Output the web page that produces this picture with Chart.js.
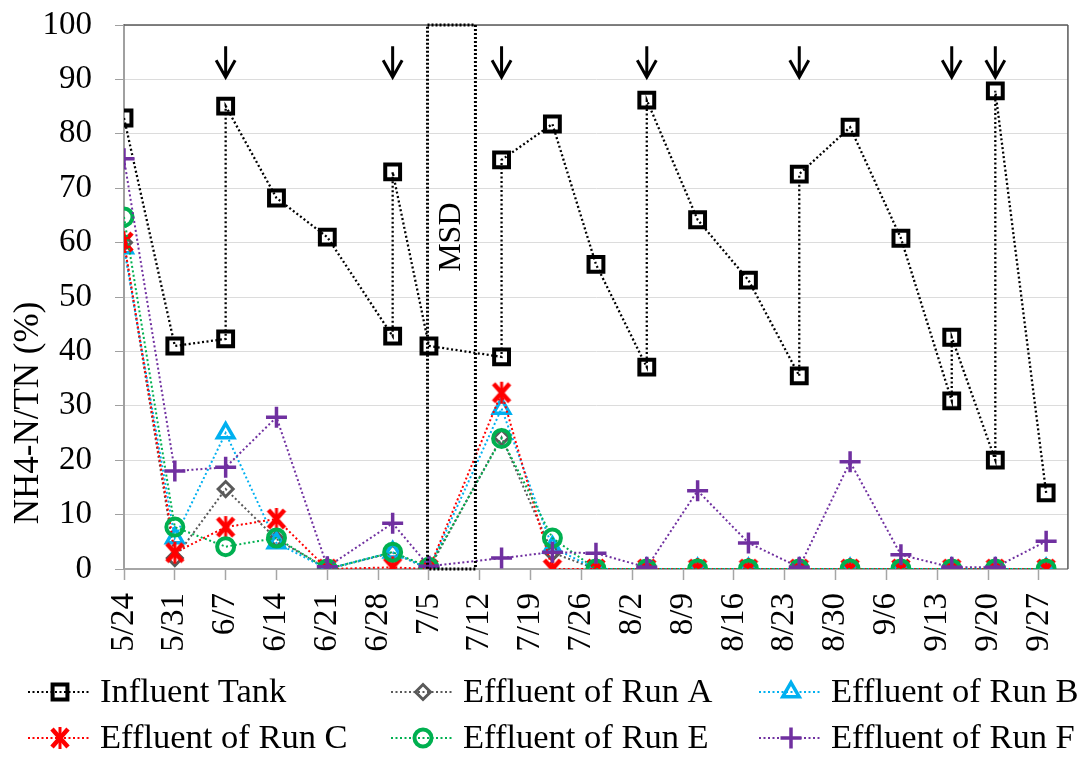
<!DOCTYPE html>
<html>
<head>
<meta charset="utf-8">
<script src="https://cdn.jsdelivr.net/npm/chart.js"></script>
<style>
  html, body { margin: 0; padding: 0; background: #fff; }
  #wrap { width: 1092px; height: 758px; }
</style>
</head>
<body>
<div id="wrap"><canvas id="myChart" width="1092" height="758"></canvas></div>
<script>
// day numbers counted from 5/24
const influentDays = [0, 7, 14, 14, 21, 28, 37, 37, 42, 52, 52, 59, 65, 72, 72, 79, 86, 93, 93, 100, 107, 114, 114, 120, 120, 127];
const influentTank = [82.9, 41, 42.3, 85.1, 68.2, 61, 42.8, 73, 41, 39, 75.2, 81.8, 56, 37.1, 86.2, 64.2, 53.1, 35.5, 72.6, 81.2, 60.8, 30.9, 42.6, 20, 87.9, 14];

const effluentDays = [0, 7, 14, 21, 28, 37, 42, 52, 59, 65, 72, 79, 86, 93, 100, 107, 114, 120, 127];
const runA = [60, 2, 14.7, 5.5, 0, 3, 0, 24.2, 3, 0, 0, 0, 0, 0, 0, 0, 0, 0, 0];
const runB = [59, 5.7, 25, 4.8, 0, 3.1, 0, 29.5, 4, 0, 0, 0, 0, 0, 0, 0, 0, 0, 0];
const runC = [60.1, 3, 7.7, 9.2, 0, 0.3, 0, 32.4, 0, 0, 0, 0, 0, 0, 0, 0, 0, 0, 0];
const runE = [64.7, 7.7, 4.1, 5.7, 0, 3.1, 0.3, 24, 5.7, 0, 0, 0, 0, 0, 0, 0, 0, 0, 0];
const runF = [75.4, 18, 18.7, 27.9, 0.4, 8.4, 0.5, 2, 3.1, 2.9, 0.3, 14.4, 4.8, 0.3, 19.7, 2.6, 0.3, 0.3, 5.1];

const seriesNames = ["Influent Tank", "Effluent of Run A", "Effluent of Run B", "Effluent of Run C", "Effluent of Run E", "Effluent of Run F"];
const arrowDays = [14, 37, 52, 72, 93, 114, 120]; // feeding days
const msdStart = 41.8, msdEnd = 48.4;

const serif = "\"Liberation Serif\", Tinos, \"Times New Roman\", serif";

const toPoints = (days, vals) => days.map((d, i) => ({ x: d, y: vals[i] }));

const dayLabel = (d) => {
  const dt = new Date(2013, 4, 24 + d);
  return (dt.getMonth() + 1) + "/" + dt.getDate();
};

// excel-like star marker (x with a vertical bar)
const starMarker = (() => {
  const c = document.createElement("canvas");
  c.width = 24; c.height = 24;
  const g = c.getContext("2d");
  g.strokeStyle = "#FF0000";
  g.lineWidth = 4.5;
  g.beginPath();
  g.moveTo(4, 3); g.lineTo(20, 21);
  g.moveTo(20, 3); g.lineTo(4, 21);
  g.stroke();
  g.lineWidth = 3;
  g.beginPath();
  g.moveTo(12, 1); g.lineTo(12, 23);
  g.stroke();
  return c;
})();

const mk = (label, days, vals, color, style, radius, bw, order, lw) => ({
  label: label,
  data: toPoints(days, vals),
  borderColor: color,
  borderWidth: lw || 2,
  borderDash: [2, 2.5],
  pointStyle: style,
  pointRadius: radius,
  pointBorderWidth: bw,
  pointBorderColor: color,
  pointBackgroundColor: "rgba(0,0,0,0)",
  backgroundColor: "rgba(0,0,0,0)",
  fill: false,
  tension: 0,
  order: order,
});

const datasets = [
  mk(seriesNames[0], influentDays, influentTank, "#000000", "rect", 10.5, 4, 6, 2.3),
  mk(seriesNames[1], effluentDays, runA, "#595959", "rectRot", 7.5, 3, 5),
  mk(seriesNames[2], effluentDays, runB, "#00B0F0", "triangle", 9.5, 3.5, 4),
  mk(seriesNames[3], effluentDays, runC, "#FF0000", starMarker, 12, 5, 3),
  mk(seriesNames[4], effluentDays, runE, "#00B050", "circle", 8.5, 4, 2),
  mk(seriesNames[5], effluentDays, runF, "#7030A0", "cross", 10.5, 3.5, 1),
];

// extras: plot border, MSD box, arrows, y title, legend
const extras = {
  id: "extras",
  afterDatasetsDraw(chart) {
    const ctx = chart.ctx;
    const a = chart.chartArea;
    const xs = chart.scales.x, ys = chart.scales.y;
    ctx.save();
    // plot border top / right
    ctx.strokeStyle = "#595959";
    ctx.lineWidth = 1.5;
    ctx.beginPath();
    ctx.moveTo(a.left, a.top); ctx.lineTo(a.right, a.top);
    ctx.moveTo(a.right, a.top); ctx.lineTo(a.right, a.bottom);
    ctx.stroke();

    // MSD box
    const x1 = xs.getPixelForValue(msdStart), x2 = xs.getPixelForValue(msdEnd);
    ctx.strokeStyle = "#000";
    ctx.lineWidth = 3;
    ctx.setLineDash([2, 2]);
    ctx.strokeRect(x1, ys.getPixelForValue(100), x2 - x1, ys.getPixelForValue(0) - ys.getPixelForValue(100));
    ctx.setLineDash([]);
    ctx.save();
    ctx.translate((x1 + x2) / 2, ys.getPixelForValue(61));
    ctx.rotate(-Math.PI / 2);
    ctx.fillStyle = "#000";
    ctx.font = "32px " + serif;
    ctx.textAlign = "center";
    ctx.textBaseline = "middle";
    ctx.fillText("MSD", 0, 0);
    ctx.restore();

    // arrows
    ctx.strokeStyle = "#000";
    ctx.lineWidth = 3;
    arrowDays.forEach((d) => {
      const x = xs.getPixelForValue(d);
      const tip = ys.getPixelForValue(90.4);
      ctx.beginPath();
      ctx.moveTo(x, tip - 31); ctx.lineTo(x, tip);
      ctx.moveTo(x - 9.5, tip - 17); ctx.lineTo(x, tip); ctx.lineTo(x + 9.5, tip - 17);
      ctx.stroke();
    });

    // y axis title
    ctx.save();
    ctx.translate(29, 413);
    ctx.rotate(-Math.PI / 2);
    ctx.fillStyle = "#000";
    ctx.font = "35px " + serif;
    ctx.textAlign = "center";
    ctx.textBaseline = "middle";
    ctx.fillText("NH4-N/TN (%)", 0, 0);
    ctx.restore();

    // legend, 3 columns x 2 rows
    const colX = [28, 391, 759];
    const rowY = [692, 738];
    chart.data.datasets.forEach((ds, i) => {
      const x = colX[i % 3], y = rowY[Math.floor(i / 3)];
      ctx.strokeStyle = ds.borderColor;
      ctx.lineWidth = 2;
      ctx.setLineDash([2, 2.5]);
      ctx.beginPath();
      ctx.moveTo(x, y); ctx.lineTo(x + 62, y);
      ctx.stroke();
      ctx.setLineDash([]);
      ctx.fillStyle = "rgba(0,0,0,0)";
      ctx.lineWidth = ds.pointBorderWidth;
      Chart.helpers.drawPoint(ctx, {
        pointStyle: ds.pointStyle, rotation: 0,
        radius: ds.pointRadius, borderWidth: ds.pointBorderWidth
      }, x + 32, y);
      ctx.fillStyle = "#000";
      ctx.font = "34.5px " + serif;
      ctx.textAlign = "left";
      ctx.textBaseline = "middle";
      ctx.fillText(ds.label, x + 72, y + 1);
    });
    ctx.restore();
  }
};

new Chart(document.getElementById("myChart"), {
  type: "line",
  data: { datasets: datasets },
  options: {
    responsive: false,
    animation: false,
    layout: { padding: { left: 0, right: 12, top: 25, bottom: 0 } },
    plugins: { legend: { display: false }, tooltip: { enabled: false } },
    scales: {
      x: {
        type: "linear",
        min: 0,
        max: 130,
        afterFit: (s) => { s.height = 189; },
        border: { color: "#a6a6a6", width: 2 },
        grid: { drawOnChartArea: false, drawTicks: true, tickLength: 11, tickColor: "#a6a6a6", tickWidth: 1.5 },
        ticks: {
          stepSize: 7,
          includeBounds: false,
          autoSkip: false,
          maxRotation: 90,
          minRotation: 90,
          padding: 13,
          color: "#000",
          font: { family: serif, size: 33 },
          callback: (v) => dayLabel(v),
        },
      },
      y: {
        min: 0,
        max: 100,
        afterFit: (s) => { s.width = 124; s.paddingTop = 0; s.paddingBottom = 0; },
        border: { color: "#a0a0a0", width: 2 },
        grid: { color: "#dcdcdc", lineWidth: 1, drawTicks: true, tickLength: 9, tickColor: "#a0a0a0" },
        ticks: {
          stepSize: 10,
          padding: 23,
          color: "#000",
          font: { family: serif, size: 33 },
        },
      },
    },
  },
  plugins: [extras],
});
</script>
</body>
</html>
